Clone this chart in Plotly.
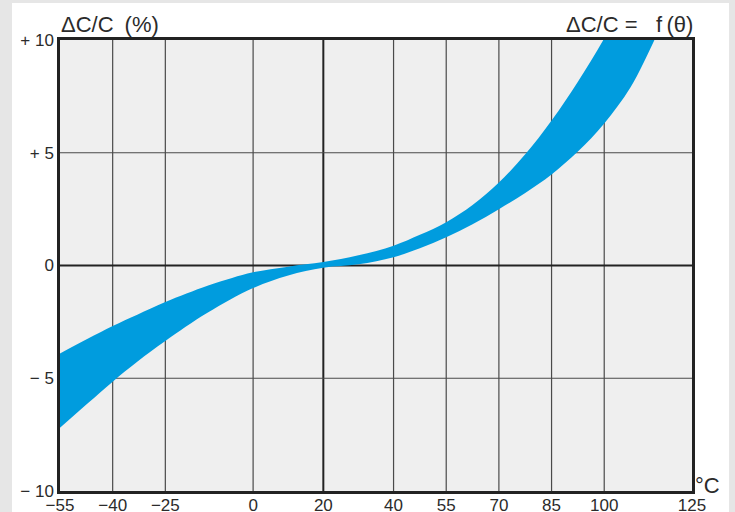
import plotly.graph_objects as go

# Temperature characteristic: capacitance change band vs. temperature
temps_upper = [-55, -47, -40, -33, -25, -13, -6, 0, 10, 20, 30, 40, 47.5, 55, 62.5, 70,
               77.5, 85, 92.5, 100, 107.5, 115]
upper = [-3.9, -3.24, -2.68, -2.18, -1.62, -0.9, -0.55, -0.3, -0.05, 0.15, 0.45, 0.88, 1.36,
         1.92, 2.68, 3.68, 4.93, 6.43, 8.15, 10.07, 12.2, 14.5]

temps_lower = [-55, -47, -40, -33, -25, -13, 0, 10, 20, 30, 40, 47.5, 55, 62.5, 70, 77.5,
               85, 92.5, 100, 107.5, 114.3, 120]
lower = [-7.2, -6.1, -5.15, -4.27, -3.35, -2.1, -1.0, -0.44, -0.1, 0.05, 0.37, 0.77, 1.25,
         1.83, 2.5, 3.22, 4.04, 5.05, 6.3, 7.9, 10.0, 11.9]

x_ticks = [-55, -40, -25, 0, 20, 40, 55, 70, 85, 100, 125]
x_labels = ["\u221255", "\u221240", "\u221225", "0", "20", "40", "55", "70", "85", "100", "125"]
y_ticks = [-10, -5, 0, 5, 10]
y_labels = ["\u2212 10", "\u2212 5", "0", "+ 5", "+ 10"]

band_color = "#009cde"
grid_color = "#4a4a4a"
axis_color = "#222222"
text_color = "#2b2b2b"
font_family = "Liberation Sans, Arial, sans-serif"

fig = go.Figure()
fig.add_trace(go.Scatter(
    x=temps_lower, y=lower, mode="lines",
    line=dict(width=0, shape="spline", smoothing=1.0, color=band_color),
    hoverinfo="skip", showlegend=False,
))
fig.add_trace(go.Scatter(
    x=temps_upper, y=upper, mode="lines",
    line=dict(width=0, shape="spline", smoothing=1.0, color=band_color),
    fill="tonexty", fillcolor=band_color,
    hoverinfo="skip", showlegend=False,
))

shapes = [
    # white page panel inside the grey border
    dict(type="rect", xref="paper", yref="paper",
         x0=-0.076, x1=1.0585, y0=-0.1, y1=1.082,
         fillcolor="white", line=dict(width=0), layer="below"),
    # plot area background
    dict(type="rect", xref="paper", yref="paper", x0=0, x1=1, y0=0, y1=1,
         fillcolor="#efefef", line=dict(width=0), layer="below"),
]
for xv in x_ticks[1:-1]:
    strong = xv == 20
    shapes.append(dict(type="line", xref="x", yref="paper", x0=xv, x1=xv, y0=0, y1=1,
                       line=dict(color=axis_color if strong else grid_color,
                                 width=2 if strong else 1.2), layer="below"))
for yv in y_ticks[1:-1]:
    strong = yv == 0
    shapes.append(dict(type="line", xref="paper", yref="y", x0=0, x1=1, y0=yv, y1=yv,
                       line=dict(color=axis_color if strong else grid_color,
                                 width=2 if strong else 1.2), layer="below"))

annotations = [
    dict(text="\u0394C/C\u2002(%)", xref="paper", yref="paper", x=-0.002, y=1.034,
         xanchor="left", yanchor="middle", showarrow=False,
         font=dict(size=22, color=text_color, family=font_family)),
    dict(text="\u0394C/C =\u00a0\u00a0\u00a0f\u2009(\u03b8)", xref="paper", yref="paper", x=1.005, y=1.034,
         xanchor="right", yanchor="middle", showarrow=False,
         font=dict(size=22, color=text_color, family=font_family)),
    dict(text="\u00b0C", xref="paper", yref="paper", x=1, y=0.0133,
         xanchor="left", yanchor="middle", xshift=1, showarrow=False,
         font=dict(size=22, color=text_color, family=font_family)),
]

fig.update_layout(
    template="none",
    width=735, height=512,
    margin=dict(l=60, r=43, t=40, b=21, pad=0),
    paper_bgcolor="#e6e6e6",
    plot_bgcolor="rgba(0,0,0,0)",
    shapes=shapes,
    annotations=annotations,
    showlegend=False,
    font=dict(family=font_family, size=17, color=text_color),
)
fig.update_xaxes(
    range=[-55, 125], tickvals=x_ticks, ticktext=x_labels,
    showgrid=False, zeroline=False, automargin=False,
    showline=True, mirror=True, linecolor=axis_color, linewidth=2.5,
    ticks="", ticklabelstandoff=-3,
    tickfont=dict(size=17, color=text_color, family=font_family),
)
fig.update_yaxes(
    range=[-10, 10], tickvals=y_ticks, ticktext=y_labels,
    showgrid=False, zeroline=False, automargin=False,
    showline=True, mirror=True, linecolor=axis_color, linewidth=2.5,
    ticks="", tickfont=dict(size=17, color=text_color, family=font_family),
)

fig.write_html("out.html")
